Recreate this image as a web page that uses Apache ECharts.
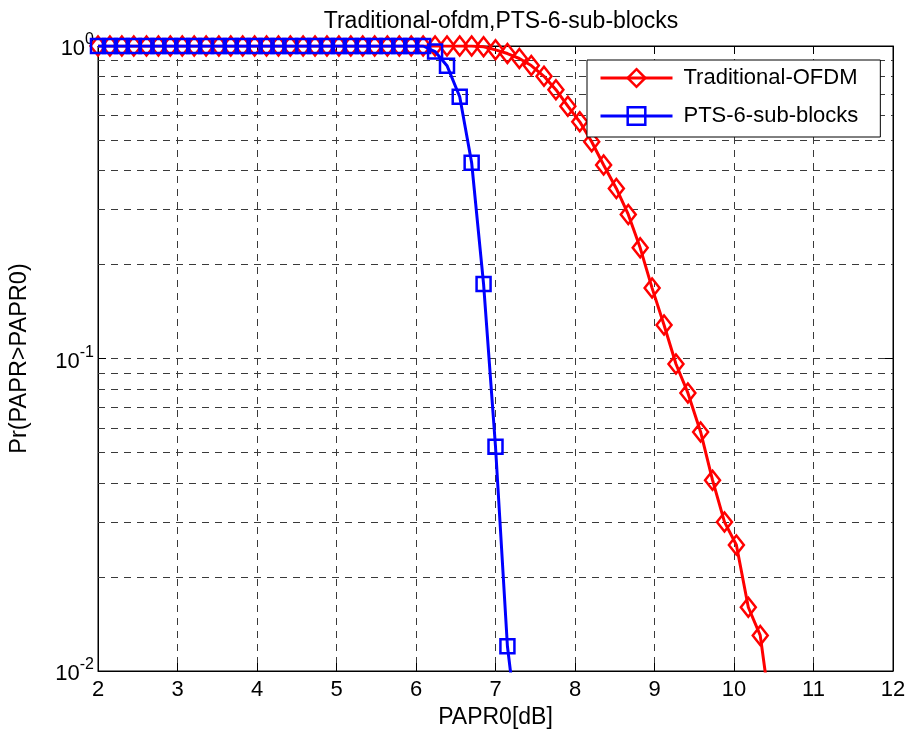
<!DOCTYPE html>
<html><head><meta charset="utf-8">
<script src="https://cdn.jsdelivr.net/npm/echarts@6/dist/echarts.min.js"></script>
<style>html,body{margin:0;padding:0;background:#fff}#c{width:910px;height:735px}</style>
</head><body><div id="c"></div>
<script>
// PAPR0 thresholds [dB]
const papr0 = [2.00, 2.15, 2.30, 2.45, 2.61, 2.76, 2.91, 3.06, 3.21, 3.36,
  3.52, 3.67, 3.82, 3.97, 4.12, 4.27, 4.42, 4.58, 4.73, 4.88,
  5.03, 5.18, 5.33, 5.48, 5.64, 5.79, 5.94, 6.09, 6.24, 6.39,
  6.55, 6.70, 6.85, 7.00, 7.15, 7.30, 7.45, 7.61, 7.76, 7.91,
  8.06, 8.21, 8.36, 8.52, 8.67, 8.82, 8.97, 9.12, 9.27, 9.42,
  9.58, 9.73, 9.88, 10.03, 10.18, 10.33, 10.48];
// CCDF, Traditional OFDM
const ccdfOfdm = [1, 1, 1, 1, 1, 1, 1, 1, 1, 1,
  1, 1, 1, 1, 1, 1, 1, 1, 1, 1,
  1, 1, 1, 1, 1, 1, 1, 1, 1, 1,
  1, 1, 0.995, 0.972, 0.946, 0.912, 0.866, 0.80, 0.725, 0.642,
  0.572, 0.494, 0.416, 0.350, 0.289, 0.226, 0.168, 0.128, 0.096, 0.0776,
  0.0582, 0.0408, 0.030, 0.0253, 0.0160, 0.0130, 0.0068];
// CCDF, PTS with 6 sub-blocks
const ccdfPts = [1, 1, 1, 1, 1, 1, 1, 1, 1, 1,
  1, 1, 1, 1, 1, 1, 1, 1, 1, 1,
  1, 1, 1, 1, 1, 1, 1, 1, 0.96, 0.865,
  0.688, 0.423, 0.173, 0.0522, 0.0120, 0.0058];
// minor log grid lines
const yMinorGrid = [0.02, 0.03, 0.04, 0.05, 0.06, 0.07, 0.08, 0.09,
  0.2, 0.3, 0.4, 0.5, 0.6, 0.7, 0.8, 0.9];
const seriesNames = ['Traditional-OFDM', 'PTS-6-sub-blocks'];
const titleText = 'Traditional-ofdm,PTS-6-sub-blocks';
const xName = 'PAPR0[dB]';
const yName = 'Pr(PAPR>PAPR0)';

const FONT = 'Liberation Sans, Arial, Helvetica, sans-serif';
const gridColor = '#3a3a3a';
const dash = [7, 6];

const chart = echarts.init(document.getElementById('c'), null, {renderer: 'canvas'});
const option = {
  backgroundColor: '#ffffff',
  animation: false,
  textStyle: {fontFamily: FONT},
  title: {
    text: titleText, left: 496, top: 5, textAlign: 'center',
    textStyle: {fontFamily: FONT, fontSize: 23, fontWeight: 'normal', color: '#000'}
  },
  grid: {left: 98, right: 17, top: 46, bottom: 64, show: true, borderColor: '#000', borderWidth: 1, backgroundColor: '#fff'},
  legend: {
    data: seriesNames, z: 20,
    left: 587, top: 60, orient: 'vertical',
    backgroundColor: '#fff', borderColor: '#000', borderWidth: 1, borderRadius: 0,
    padding: [7, 22, 10, 12], itemGap: 16, itemWidth: 72, itemHeight: 22,
    lineStyle: {width: 3},
    itemStyle: {borderWidth: 2.5},
    textStyle: {fontFamily: FONT, fontSize: 22, color: '#000', padding: [0, 0, 0, 6]}
  },
  xAxis: [{
    type: 'value', min: 2, max: 12, interval: 1, position: 'bottom',
    name: xName, nameLocation: 'middle', nameGap: 34,
    nameTextStyle: {fontFamily: FONT, fontSize: 23, color: '#000'},
    axisLine: {show: true, lineStyle: {color: '#000', width: 1}},
    axisTick: {show: true, inside: true, length: 8, lineStyle: {color: '#000'}},
    axisLabel: {fontFamily: FONT, fontSize: 22, color: '#000', margin: 8},
    splitLine: {show: true, lineStyle: {color: gridColor, type: dash, width: 1}}
  }, {
    type: 'value', min: 2, max: 12, interval: 1, position: 'top',
    axisLine: {show: true, lineStyle: {color: '#000', width: 1}},
    axisTick: {show: true, inside: true, length: 8, lineStyle: {color: '#000'}},
    axisLabel: {show: false}, splitLine: {show: false}
  }],
  yAxis: [{
    type: 'log', logBase: 10, min: 0.01, max: 1, position: 'left',
    name: yName, nameLocation: 'middle', nameGap: 66, nameRotate: 90,
    nameTextStyle: {fontFamily: FONT, fontSize: 23.5, color: '#000'},
    axisLine: {show: true, lineStyle: {color: '#000', width: 1}},
    axisTick: {show: true, inside: true, length: 8, lineStyle: {color: '#000'}},
    axisLabel: {
      color: '#000', margin: 4, showMinLabel: true, showMaxLabel: true,
      formatter: v => '{b|10}{s|' + Math.round(Math.log10(v)) + '}',
      rich: {
        b: {fontFamily: FONT, fontSize: 22, color: '#000', padding: [6, 0, 0, 0]},
        s: {fontFamily: FONT, fontSize: 16, color: '#000', verticalAlign: 'top'}
      }
    },
    splitLine: {show: true, lineStyle: {color: gridColor, type: dash, width: 1}}
  }, {
    type: 'log', logBase: 10, min: 0.01, max: 1, position: 'right',
    axisLine: {show: true, lineStyle: {color: '#000', width: 1}},
    axisTick: {show: true, inside: true, length: 8, lineStyle: {color: '#000'}},
    axisLabel: {show: false}, splitLine: {show: false}
  }],
  series: [{
    name: 'minor-grid', type: 'line', data: [], z: 1, silent: true,
    markLine: {
      silent: true, symbol: ['none', 'none'], animation: false, z: 1,
      label: {show: false},
      lineStyle: {color: gridColor, type: dash, width: 1},
      emphasis: {disabled: true},
      data: yMinorGrid.map(v => ({yAxis: v}))
    }
  }, {
    name: seriesNames[0], type: 'line', z: 3,
    data: ccdfOfdm.map((v, i) => [papr0[i], v]),
    symbol: 'diamond', symbolSize: [15, 19], showSymbol: true, showAllSymbol: true,
    lineStyle: {color: '#ff0000', width: 3},
    itemStyle: {color: 'rgba(255,255,255,0)', borderColor: '#ff0000', borderWidth: 2.5},
    emphasis: {disabled: true}
  }, {
    name: seriesNames[1], type: 'line', z: 4,
    data: ccdfPts.map((v, i) => [papr0[i], v]),
    symbol: 'rect', symbolSize: 14, showSymbol: true, showAllSymbol: true,
    lineStyle: {color: '#0000ff', width: 3},
    itemStyle: {color: 'rgba(255,255,255,0)', borderColor: '#0000ff', borderWidth: 2.5},
    emphasis: {disabled: true}
  }]
};
chart.setOption(option);
</script></body></html>
